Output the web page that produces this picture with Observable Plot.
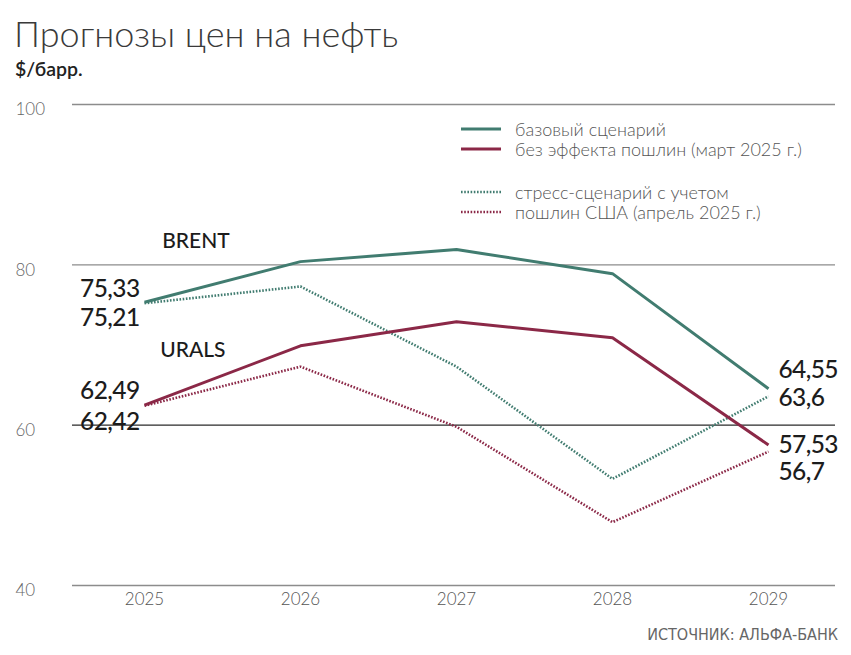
<!DOCTYPE html>
<html>
<head>
<meta charset="utf-8">
<script src="https://cdn.jsdelivr.net/npm/d3@7"></script>
<script src="https://cdn.jsdelivr.net/npm/@observablehq/plot@0.6"></script>
<style>
  html, body { margin: 0; padding: 0; background: #fff; }
  body { width: 851px; height: 655px; position: relative; overflow: hidden; font-family: Lato, "Open Sans", sans-serif; }
  #title { position: absolute; left: 14px; top: 13px; font-size: 36px; font-weight: 300; color: #3a3a3a; line-height: 40px; white-space: nowrap; }
  #subtitle { position: absolute; left: 15px; top: 58px; font-size: 19.5px; font-weight: 600; color: #222; line-height: 22px; }
  #chart { position: absolute; left: 0; top: 85px; }
  #legend { position: absolute; left: 461px; top: 117px; font-size: 18px; font-weight: 300; color: #555; }
  .lrow { position: absolute; left: 0; height: 20px; white-space: nowrap; }
  .lrow svg { position: absolute; left: 0; top: 0; }
  .lrow span { position: absolute; left: 54px; top: 0; line-height: 20px; }
  #source { position: absolute; right: 13px; top: 625px; font-family: "Liberation Sans Narrow", "DejaVu Sans Condensed", sans-serif; font-size: 16px; color: #666; line-height: 20px; }
  .vlabel text { letter-spacing: -0.6px; }
</style>
</head>
<body>
<div id="title">Прогнозы цен на нефть</div>
<div id="subtitle">$/барр.</div>
<div id="chart"></div>
<div id="legend"></div>
<div id="source">ИСТОЧНИК: АЛЬФА-БАНК</div>
<script>
const years = [2025, 2026, 2027, 2028, 2029];
const brentBase   = [75.33, 80.4, 81.9, 78.9, 64.55];
const brentStress = [75.21, 77.3, 67.3, 53.3, 63.6];
const uralsBase   = [62.49, 69.9, 72.9, 70.9, 57.53];
const uralsStress = [62.42, 67.3, 59.8, 47.9, 56.7];
const yTicks = [40, 60, 80, 100];
const legendLabels = [
  "базовый сценарий",
  "без эффекта пошлин (март 2025 г.)",
  "стресс-сценарий с учетом",
  "пошлин США (апрель 2025 г.)"
];

const teal = "#417c70";
const crimson = "#8b2847";

const seriesDefs = [
  {key: "brentBase", values: brentBase, color: teal, dotted: false, dyL: -13, dyR: -19},
  {key: "brentStress", values: brentStress, color: teal, dotted: true, dyL: 15, dyR: 2},
  {key: "uralsBase", values: uralsBase, color: crimson, dotted: false, dyL: -14, dyR: 0},
  {key: "uralsStress", values: uralsStress, color: crimson, dotted: true, dyL: 16, dyR: 21}
];

const fmt = v => String(v).replace(".", ",");

const lineMarks = seriesDefs.map(s => Plot.line(years.map((yr, i) => ({year: yr, value: s.values[i]})), {
  x: "year", y: "value", stroke: s.color,
  strokeWidth: s.dotted ? 2.6 : 3,
  strokeDasharray: s.dotted ? "1.6,1.6" : null,
  strokeLinejoin: "miter", strokeLinecap: "butt"
}));

const labelMarks = [];
seriesDefs.forEach(s => {
  labelMarks.push(Plot.text([{year: years[0], value: s.values[0]}], {
    x: "year", y: "value", text: d => fmt(d.value), textAnchor: "end", dx: -5, dy: s.dyL,
    fontSize: 24.5, fill: "#1c1c1c", className: "vlabel", fontWeight: 500
  }));
  const n = years.length - 1;
  labelMarks.push(Plot.text([{year: years[n], value: s.values[n]}], {
    x: "year", y: "value", text: d => fmt(d.value), textAnchor: "start", dx: 10, dy: s.dyR,
    fontSize: 24.5, fill: "#1c1c1c", className: "vlabel", fontWeight: 500
  }));
});

const chart = Plot.plot({
  width: 851,
  height: 535,
  marginTop: 19,
  marginBottom: 35,
  marginLeft: 72,
  marginRight: 16,
  style: {fontFamily: "Lato, 'Open Sans', sans-serif", background: "transparent", overflow: "visible"},
  x: {domain: [2025, 2029], range: [144, 768], axis: null},
  y: {domain: [40, 100], axis: null},
  marks: [
    Plot.ruleY(yTicks, {y: d => d, stroke: d => d === 60 ? "#2a2a2a" : "#8c8c8c", strokeWidth: 1.3}),
    Plot.text(yTicks, {y: d => d, text: d => String(d), frameAnchor: "left", dx: -57, dy: 5.5, textAnchor: "start", fontSize: 17, fill: "#666", fontWeight: 300}),
    Plot.text(years, {x: d => d, text: d => String(d), frameAnchor: "bottom", dy: 19.5, fontSize: 17, fill: "#555", fontWeight: 300}),
    ...lineMarks,
    ...labelMarks,
    Plot.text(["BRENT"], {x: 2025.33, y: 83.0, text: d => d, fontSize: 21, fill: "#1c1c1c", fontWeight: 500}),
    Plot.text(["URALS"], {x: 2025.31, y: 69.3, text: d => d, fontSize: 21, fill: "#1c1c1c", fontWeight: 500})
  ]
});
document.getElementById("chart").appendChild(chart);

// legend
const legendItems = [
  {label: legendLabels[0], color: teal, dotted: false, top: 2},
  {label: legendLabels[1], color: crimson, dotted: false, top: 22},
  {label: legendLabels[2], color: teal, dotted: true, top: 65},
  {label: legendLabels[3], color: crimson, dotted: true, top: 85}
];
const legend = document.getElementById("legend");
legendItems.forEach(it => {
  const row = document.createElement("div");
  row.className = "lrow";
  row.style.top = it.top + "px";
  row.innerHTML = `<svg width="42" height="20"><line x1="0" x2="40" y1="10" y2="10" stroke="${it.color}" stroke-width="${it.dotted ? 2.4 : 3}" ${it.dotted ? 'stroke-dasharray="1.6,1.6"' : ''} stroke-linecap="butt"/></svg><span>${it.label}</span>`;
  legend.appendChild(row);
});
</script>
</body>
</html>
